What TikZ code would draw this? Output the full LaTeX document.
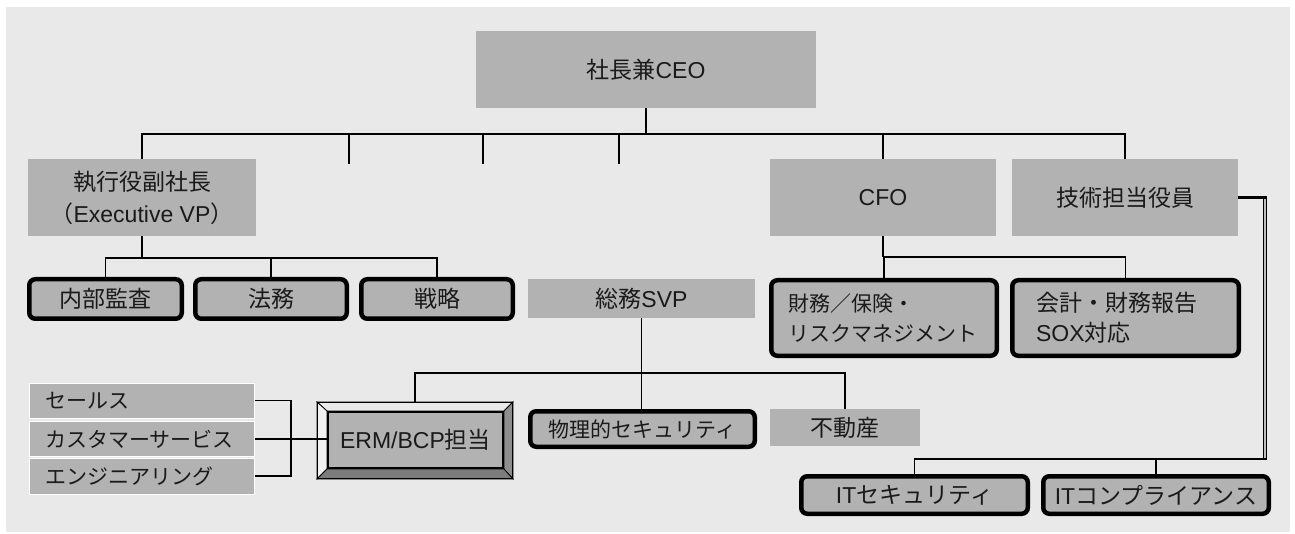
\documentclass[tikz,border=0pt]{standalone}
\usepackage{fontspec}
\setmainfont{Liberation Sans}
\newfontfamily\jpf{Noto Sans CJK JP}
\definecolor{bgc}{HTML}{E9E9E9}
\definecolor{boxg}{HTML}{B2B2B2}
\definecolor{txt}{HTML}{1A1A1A}
\definecolor{bevlight}{HTML}{F2F2F2}
\definecolor{bevtop}{HTML}{EAEAEA}
\definecolor{bevright}{HTML}{8E8E8E}
\definecolor{bevbot}{HTML}{7C7C7C}
\begin{document}
\begin{tikzpicture}[x=1pt,y=-1pt,
  plainbox/.style={fill=boxg, inner sep=0pt, text=txt, align=center,
    font=\fontsize{23pt}{32pt}\selectfont},
  thickbox/.style={fill=boxg, draw=black, line width=4.5pt, rounded corners=6pt,
    inner sep=0pt, text=txt, align=center, font=\fontsize{23pt}{30pt}\selectfont},
  listbox/.style={fill=boxg, draw=white, line width=1pt, inner xsep=15.5pt,
    inner ysep=0pt, text width=194pt, align=left, text=txt,
    minimum width=225pt, font=\fontsize{21pt}{26pt}\selectfont},
  conn/.style={line width=1.3pt, draw=black},
  tickline/.style={line width=2.7pt, draw=black},
  dbl/.style={line width=1.1pt, draw=black, double=bgc!60!gray, double distance=1.2pt},
  bev/.style={draw=black, line width=0.8pt},
]
\useasboundingbox (0,0) rectangle (1295,534);
\fill[white] (0,0) rectangle (1295,534);
\fill[bgc] (6,7) rectangle (1290,532);

% top level
\node[plainbox, minimum width=340pt, minimum height=77pt] (ceo) at (646,69.5) {{\jpf 社長兼}CEO};
\node[plainbox, minimum width=228pt, minimum height=77pt] (evp) at (142,197.5)
  {{\jpf 執行役副社長}\\{\jpf （}Executive VP{\jpf ）}};
\node[plainbox, minimum width=226pt, minimum height=77pt] (cfo) at (883,197.5) {CFO};
\node[plainbox, minimum width=226pt, minimum height=77pt] (cto) at (1125,197.5) {\jpf 技術担当役員};

% second level
\node[thickbox, minimum width=152.5pt, minimum height=39.5pt] (audit) at (105.5,299) {\jpf 内部監査};
\node[thickbox, minimum width=151.5pt, minimum height=39.5pt] (legal) at (271,299) {\jpf 法務};
\node[thickbox, minimum width=151.5pt, minimum height=39.5pt] (strat) at (437,299) {\jpf 戦略};
\node[plainbox, minimum width=227pt, minimum height=39pt] (ga) at (641.5,298.5) {{\jpf 総務}SVP};
\node[thickbox, align=left, inner xsep=16.75pt, text width=192pt, minimum width=225.5pt,
  minimum height=75.5pt, font=\fontsize{21pt}{30pt}\selectfont] (fin) at (884,318)
  {{\jpf 財務／保険・}\\{\jpf リスクマネジメント}};
\node[thickbox, align=left, inner xsep=23.75pt, text width=179pt, minimum width=226.5pt,
  minimum height=75.5pt, font=\fontsize{23pt}{30pt}\selectfont] (acct) at (1125.5,318)
  {{\jpf 会計・財務報告}\\SOX{\jpf 対応}};

% third level
\node[thickbox, minimum width=224.5pt, minimum height=35.5pt,
  font=\fontsize{21pt}{26pt}\selectfont] (phys) at (642.5,429) {\jpf 物理的セキュリティ};
\node[plainbox, minimum width=150pt, minimum height=37pt] (re) at (845,427.5) {\jpf 不動産};

% ERM bevelled box
\filldraw[bev, fill=bevtop] (317,402) -- (513,402) -- (504,411) -- (327,411) -- cycle;
\filldraw[bev, fill=bevlight] (317,402) -- (327,411) -- (327,469) -- (317,479) -- cycle;
\filldraw[bev, fill=bevright] (513,402) -- (513,479) -- (504,469) -- (504,411) -- cycle;
\filldraw[bev, fill=bevbot] (317,479) -- (513,479) -- (504,469) -- (327,469) -- cycle;
\node[draw=black, line width=1.2pt, minimum width=195pt, minimum height=76pt, inner sep=0pt] (ermf) at (415,440.5) {};
\node[fill=boxg, draw=black, line width=2pt, minimum width=175pt, minimum height=56pt,
  inner sep=0pt, text=txt, font=\fontsize{23pt}{30pt}\selectfont] (erm) at (415.5,440) {ERM/BCP{\jpf 担当}};

% list boxes
\node[listbox, minimum height=35pt] (sales) at (142,400.5) {\jpf セールス};
\node[listbox, minimum height=35pt] (cs) at (142,439) {\jpf カスタマーサービス};
\node[listbox, minimum height=36pt] (eng) at (142,476) {\jpf エンジニアリング};

% IT boxes
\node[thickbox, minimum width=226.5pt, minimum height=37.5pt] (itsec) at (914.5,495) {IT{\jpf セキュリティ}};
\node[thickbox, minimum width=225.5pt, minimum height=37.5pt] (itcomp) at (1156,495) {IT{\jpf コンプライアンス}};

% coordinates
\coordinate (busy) at (0,134);
\coordinate (t1) at (349,164);
\coordinate (t2) at (483,164);
\coordinate (t3) at (619,164);
\coordinate (evpbus) at (0,258);
\coordinate (cfobus) at (0,257);
\coordinate (gabus) at (0,373);
\coordinate (brx) at (291,0);
\coordinate (tx) at (1265,0);
\coordinate (ity) at (0,459);

% connectors
\draw[conn] (ceo.south) -- (ceo.south |- busy);
\draw[conn] (evp.north) -- (evp.north |- busy) -| (cto.north);
\draw[conn] (cfo.north) -- (cfo.north |- busy);
\draw[tickline] (t1) -- (t1 |- busy);
\draw[tickline] (t2) -- (t2 |- busy);
\draw[tickline] (t3) -- (t3 |- busy);

\draw[conn] (evp.south) -- (evp.south |- evpbus);
\draw[conn] (audit.north) -- (audit.north |- evpbus) -| (strat.north);
\draw[conn] (legal.north) -- (legal.north |- evpbus);

\draw[conn] (cfo.south) -- (cfo.south |- cfobus);
\draw[conn] (fin.north) -- (fin.north |- cfobus) -| (acct.north);

\draw[conn] (ga.south) -- (ga.south |- phys.north);
\draw[conn] (ermf.north) -- (ermf.north |- gabus) -| (re.north);

\draw[conn] (sales.east) -| (brx |- eng.east) -- (eng.east);
\draw[conn] (cs.east) -- (brx |- cs.east);
\draw[tickline] (brx |- cs.east) -- (erm.west |- cs.east);

\draw[dbl] (tx |- cto.east) -- (tx |- ity);
\draw[line width=2.4pt] (cto.east) -- ([xshift=1.5pt]tx |- cto.east);
\draw[conn] ([xshift=1.5pt]tx |- ity) -- (itsec.north |- ity) -- (itsec.north);
\draw[conn] (itcomp.north) -- (itcomp.north |- ity);
\end{tikzpicture}
\end{document}
